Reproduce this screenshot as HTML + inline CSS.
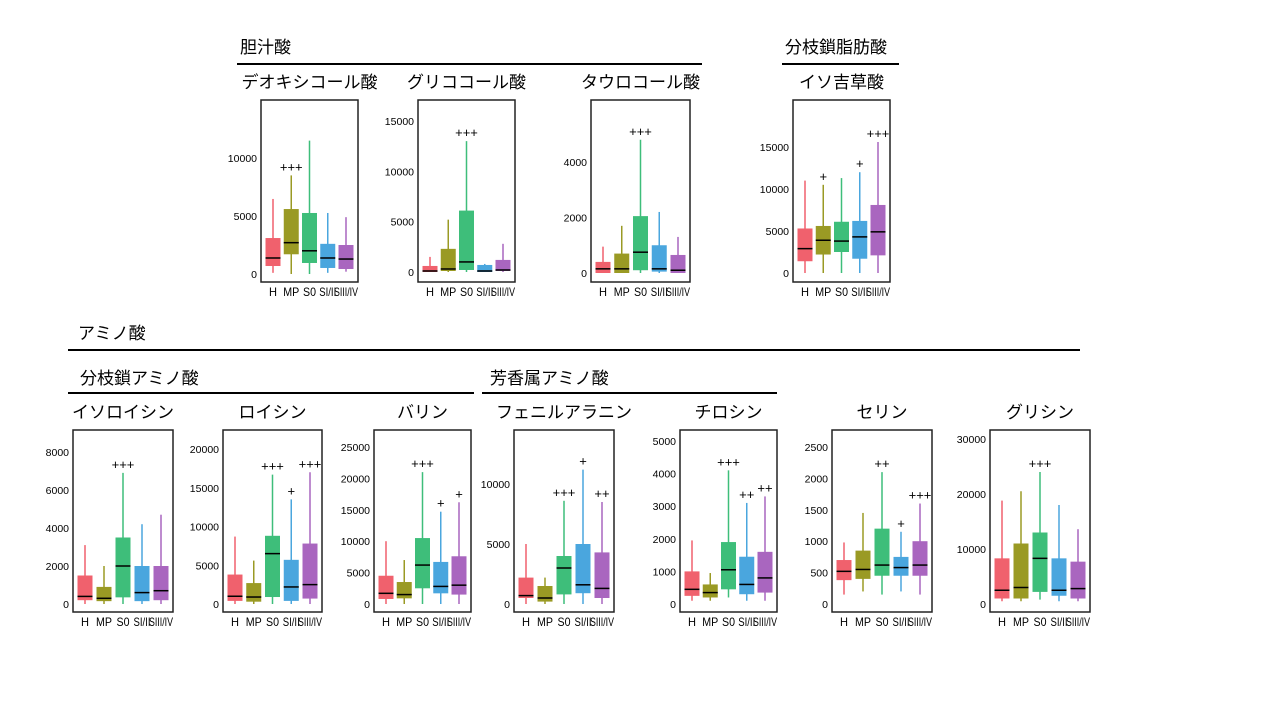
<!DOCTYPE html>
<html><head><meta charset="utf-8">
<style>
html,body{margin:0;padding:0;background:#fff;}
svg{display:block;font-family:"Liberation Sans","Noto Sans CJK JP",sans-serif;}
</style></head>
<body>
<svg id="fig" width="1280" height="720" viewBox="0 0 1280 720"></svg>
<script>
// Categories
const groups = ["H","MP","S0","SI/II","SIII/IV"];
const colors = ["#F0616D","#9A9A24","#3EBE7A","#4AA6DE","#A966BF"];
// Each series: [low whisker, Q1, median, Q3, high whisker] per group
const deoxycholic = [[100,690,1380,3100,6470],[0,1700,2700,5600,8500],[0,950,2000,5260,11500],[100,520,1380,2600,5260],[200,430,1290,2500,4900]];
const glycocholic = [[0,0,100,600,1500],[0,100,300,2300,5200],[0,200,1000,6100,13000],[0,0,100,700,800],[0,100,200,1200,2800]];
const taurocholic = [[0,0,150,400,950],[0,0,150,700,1700],[0,100,750,2050,4800],[0,50,150,1000,2200],[0,0,100,650,1300]];
const isovaleric = [[0,1400,2900,5300,11000],[0,2200,3900,5600,10500],[0,2500,3800,6100,11300],[0,1700,4300,6200,12000],[0,2100,4900,8100,15600]];
const isoleucine = [[0,200,400,1500,3100],[0,150,300,900,2000],[0,350,2000,3500,6900],[0,150,600,2000,4200],[0,200,700,2000,4700]];
const leucine = [[0,400,1000,3800,8700],[0,300,900,2700,5600],[0,900,6500,8800,16700],[0,400,2200,5700,13500],[0,700,2500,7800,17000]];
const valine = [[0,800,1700,4500,10000],[0,900,1500,3500,7000],[0,2500,6200,10500,21000],[0,1700,2800,6700,14700],[0,1500,3000,7600,16200]];
const phenylalanine = [[0,500,700,2200,5000],[0,200,500,1500,2200],[0,800,3000,4000,8600],[0,900,1600,5000,11200],[0,500,1300,4300,8500]];
const tyrosine = [[100,250,450,1000,1950],[100,200,350,600,950],[200,450,1050,1900,4100],[100,300,600,1450,3100],[100,350,800,1600,3300]];
const serine = [[150,380,520,700,980],[200,400,550,850,1450],[150,450,620,1200,2100],[200,450,580,750,1150],[150,450,620,1000,1600]];
const glycine = [[500,1000,2500,8300,18800],[500,1000,3000,11000,20500],[800,2200,8300,13000,24000],[500,1500,2500,8300,18000],[500,1000,2800,7700,13600]];
// Significance marks per group
const sigDeoxy = ["","+++","","",""];
const sigGlyco = ["","","+++","",""];
const sigTauro = ["","","+++","",""];
const sigIso = ["","+","","+","+++"];
const sigIle = ["","","+++","",""];
const sigLeu = ["","","+++","+","+++"];
const sigVal = ["","","+++","+","+"];
const sigPhe = ["","","+++","+","++"];
const sigTyr = ["","","+++","++","++"];
const sigSer = ["","","++","+","+++"];
const sigGly = ["","","+++","",""];
// Tick labels
const ticksDeoxy = [0,5000,10000];
const ticksGlyco = [0,5000,10000,15000];
const ticksTauro = [0,2000,4000];
const ticksIso = [0,5000,10000,15000];
const ticksIle = [0,2000,4000,6000,8000];
const ticksLeu = [0,5000,10000,15000,20000];
const ticksVal = [0,5000,10000,15000,20000,25000];
const ticksPhe = [0,5000,10000];
const ticksTyr = [0,1000,2000,3000,4000,5000];
const ticksSer = [0,500,1000,1500,2000,2500];
const ticksGly = [0,10000,20000,30000];

const labelW = [8,16,13,17,24];
const NS="http://www.w3.org/2000/svg";
const svg=document.getElementById('fig');
function mk(tag,attrs,parent){const e=document.createElementNS(NS,tag);for(const k in attrs)e.setAttribute(k,attrs[k]);(parent||svg).appendChild(e);return e;}
function txt(s,x,y,size,anchor,parent){const t=mk('text',{x:x,y:y,'font-size':size,'text-anchor':anchor||'start',fill:'#000'},parent);t.textContent=s;return t;}

const headers=[["胆汁酸",240,53,237,702,64],["分枝鎖脂肪酸",785,53,782,899,64],["アミノ酸",78,339,68,1080,350],["分枝鎖アミノ酸",80,384,68,474,393],["芳香属アミノ酸",490,384,482,777,393]];
headers.forEach(h=>{
  const t=txt(h[0],h[1],h[2],17);
  
  
  const l=mk('line',{x1:h[3],x2:h[4],y1:h[5],y2:h[5],stroke:'#000','stroke-width':2});
  
  
});

function panel(name,title,data,sig,ticks,left,right,top,bottom,zeroY,refVal,refY){
  const g=mk('g',{});
  
  
  const k=(zeroY-refY)/refVal;
  const y=v=>zeroY-v*k;
  const tt=txt(title,(left+right)/2,top-12,17,'middle',g);
  
  
  ticks.forEach(v=>{
    const t=txt(String(v),left-4,y(v)+4,10.5,'end',g);
    
    
  });
  const sp=(right-left-24)/4;
  data.forEach((d,i)=>{
    const cx=left+12+sp*i, w=15;
    const wl=mk('line',{x1:cx,x2:cx,y1:y(d[0]),y2:y(d[4]),stroke:colors[i],'stroke-width':1.5},g);
    
    
    const b=mk('rect',{x:cx-w/2,y:y(d[3]),width:w,height:Math.max(1,y(d[1])-y(d[3])),fill:colors[i]},g);
    
    
    const m=mk('line',{x1:cx-w/2,x2:cx+w/2,y1:y(d[2]),y2:y(d[2]),stroke:'#000','stroke-width':1.5},g);
    
    
    if(sig[i]){
      const s=txt(sig[i],cx,y(d[4])-4,13,'middle',g);
      
      
    }
    const xl=txt(groups[i],cx,bottom+14,12,'middle',g);
    xl.setAttribute('textLength',labelW[i]);
    xl.setAttribute('lengthAdjust','spacingAndGlyphs');
    
    
  });
  const f=mk('rect',{x:left,y:top,width:right-left,height:bottom-top,fill:'none',stroke:'#222','stroke-width':1.5},g);
  
  
}
panel('deoxycholic-acid','デオキシコール酸',deoxycholic,sigDeoxy,ticksDeoxy,261,358,100,282,274,10000,158);
panel('glycocholic-acid','グリココール酸',glycocholic,sigGlyco,ticksGlyco,418,515,100,282,272,15000,121);
panel('taurocholic-acid','タウロコール酸',taurocholic,sigTauro,ticksTauro,591,690,100,282,273,4000,162);
panel('isovaleric-acid','イソ吉草酸',isovaleric,sigIso,ticksIso,793,890,100,282,273,15000,147);
panel('isoleucine','イソロイシン',isoleucine,sigIle,ticksIle,73,173,430,612,604,8000,452);
panel('leucine','ロイシン',leucine,sigLeu,ticksLeu,223,322,430,612,604,20000,449);
panel('valine','バリン',valine,sigVal,ticksVal,374,471,430,612,604,25000,447);
panel('phenylalanine','フェニルアラニン',phenylalanine,sigPhe,ticksPhe,514,614,430,612,604,10000,484);
panel('tyrosine','チロシン',tyrosine,sigTyr,ticksTyr,680,777,430,612,604,5000,441);
panel('serine','セリン',serine,sigSer,ticksSer,832,932,430,612,604,2500,447);
panel('glycine','グリシン',glycine,sigGly,ticksGly,990,1090,430,612,604,30000,439);
</script>
</body></html>
